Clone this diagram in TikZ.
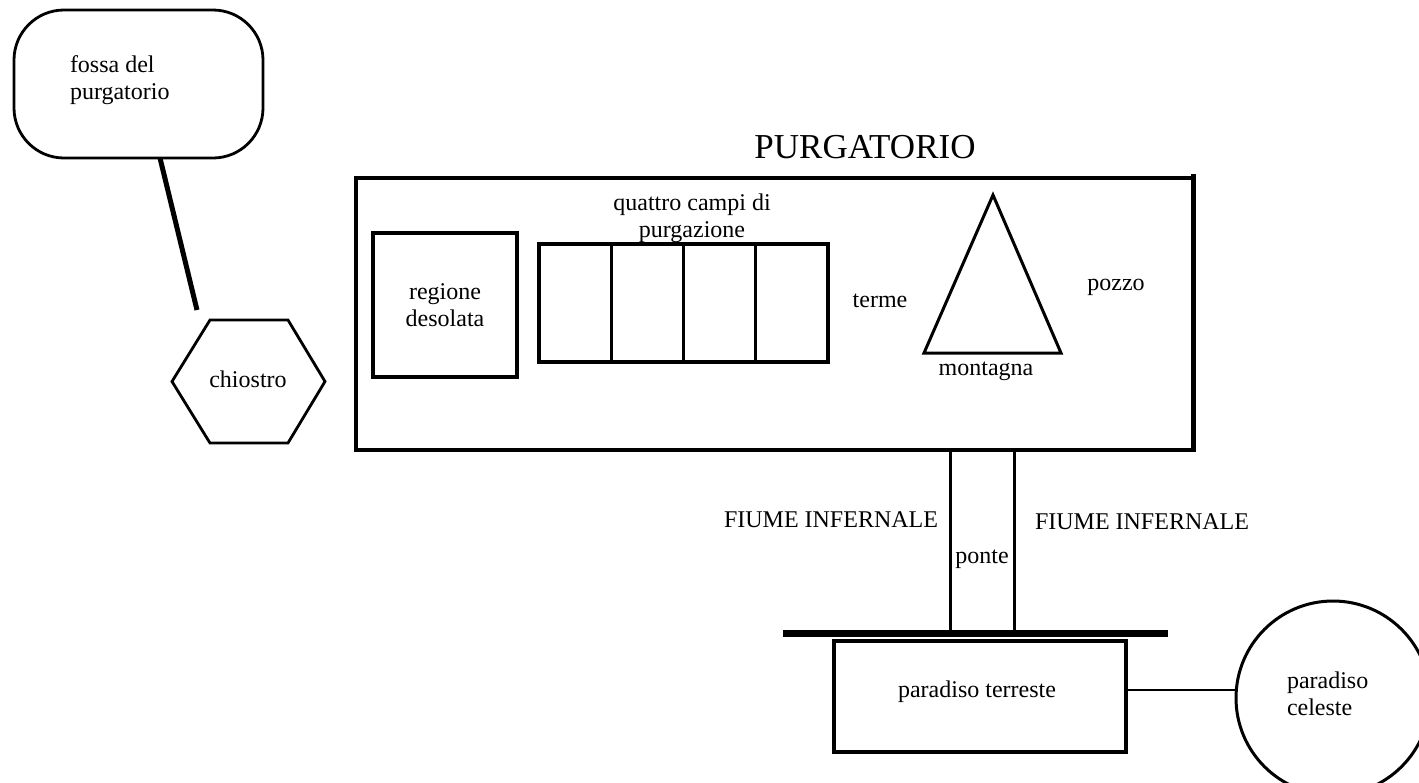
\documentclass[tikz,border=0pt]{standalone}
\usepackage{fontspec}
\setmainfont{Liberation Serif}
\usetikzlibrary{calc}
\tikzset{
  lbl/.style={inner sep=0pt, outer sep=0pt, font=\fontsize{24}{27}\selectfont, align=center},
  box/.style={draw, line width=3.3pt, inner sep=0pt, outer sep=0pt, font=\fontsize{24}{27}\selectfont, align=center},
}
\begin{document}
\begin{tikzpicture}[x=1pt,y=-1pt, line join=miter]
\useasboundingbox (0,0) rectangle (1419,782);
\clip (0,0) rectangle (1419,782);

% fossa del purgatorio
\node[box, line width=2.8pt, rounded corners=50pt, minimum width=249pt, minimum height=148pt] (fossa) at (138.5,84) {};
\node[lbl, align=left, anchor=west] (fossat) at (70,80) {fossa del\\purgatorio};

% chiostro
\coordinate (hexc) at (248.5,381.5);
\draw[line width=2.8pt] ($(hexc)+(-76.5,0)$) -- ($(hexc)+(-38.5,-61.5)$) -- ($(hexc)+(39.5,-61.5)$) -- ($(hexc)+(76.5,0)$) -- ($(hexc)+(39.5,61.5)$) -- ($(hexc)+(-38.5,61.5)$) -- cycle;
\node[lbl, anchor=base] (chiostro) at (248,387) {chiostro};
\coordinate (fc) at (197,310);
\draw[line width=5pt] ([xshift=21.5pt]fossa.south) -- (fc);

% purgatorio
\node[inner sep=0pt, font=\fontsize{35}{40}\selectfont, anchor=base] (title) at (865,158) {PURGATORIO};
\node[box, minimum width=837pt, minimum height=272pt] (purg) at (774.5,314) {};
\draw[line width=5pt] ([yshift=4pt]purg.north east) -- ([yshift=-1.65pt]purg.south east);

% regione desolata
\node[box, line width=3.5pt, minimum width=144pt, minimum height=144pt] (regione) at (445,305) {regione\\desolata};

% quattro campi
\node[box, minimum width=72.25pt, minimum height=118pt] (c1) at (575.125,303) {};
\node[box, minimum width=72.25pt, minimum height=118pt, anchor=west] (c2) at (c1.east) {};
\node[box, minimum width=72.25pt, minimum height=118pt, anchor=west] (c3) at (c2.east) {};
\node[box, minimum width=72.25pt, minimum height=118pt, anchor=west] (c4) at (c3.east) {};
\node[lbl] (campi) at (692,218) {quattro campi di\\purgazione};

% terme, montagna, pozzo
\node[lbl, anchor=base] (terme) at (880,307) {terme};
\coordinate (tA) at (993,195);
\coordinate (tB) at (924,353);
\coordinate (tC) at (1061,353);
\draw[line width=3pt] (tA) -- (tB) -- (tC) -- cycle;
\node[lbl, anchor=base] (montagna) at (986,375) {montagna};
\node[lbl, anchor=base] (pozzo) at (1116,290) {pozzo};

% ponte
\node[box, line width=3pt, minimum width=64pt, minimum height=181pt] (pillar) at (982,540.5) {};
\node[lbl, anchor=base] (ponte) at (982,563) {ponte};
\node[lbl, anchor=base] (f1) at (831,527) {FIUME INFERNALE};
\node[lbl, anchor=base] (f2) at (1142,529) {FIUME INFERNALE};
\coordinate (bar1) at (783,633);
\coordinate (bar2) at (1168,633);
\draw[line width=7pt] (bar1) -- (bar2);

% paradiso
\node[box, line width=3.5pt, minimum width=292pt, minimum height=111pt] (pterr) at (980,696.5) {};
\node[lbl, anchor=base] (pterrt) at (977,697) {paradiso terreste};
\node[draw, circle, line width=3pt, minimum size=194pt, inner sep=0pt, outer sep=0pt] (celeste) at (1333,698) {};
\node[lbl, align=left, anchor=west] (celestet) at (1287,694) {paradiso\\celeste};
\draw[line width=2pt] ([yshift=7pt]pterr.east) -- ([yshift=7pt]pterr.east -| celeste.west);
\end{tikzpicture}
\end{document}
